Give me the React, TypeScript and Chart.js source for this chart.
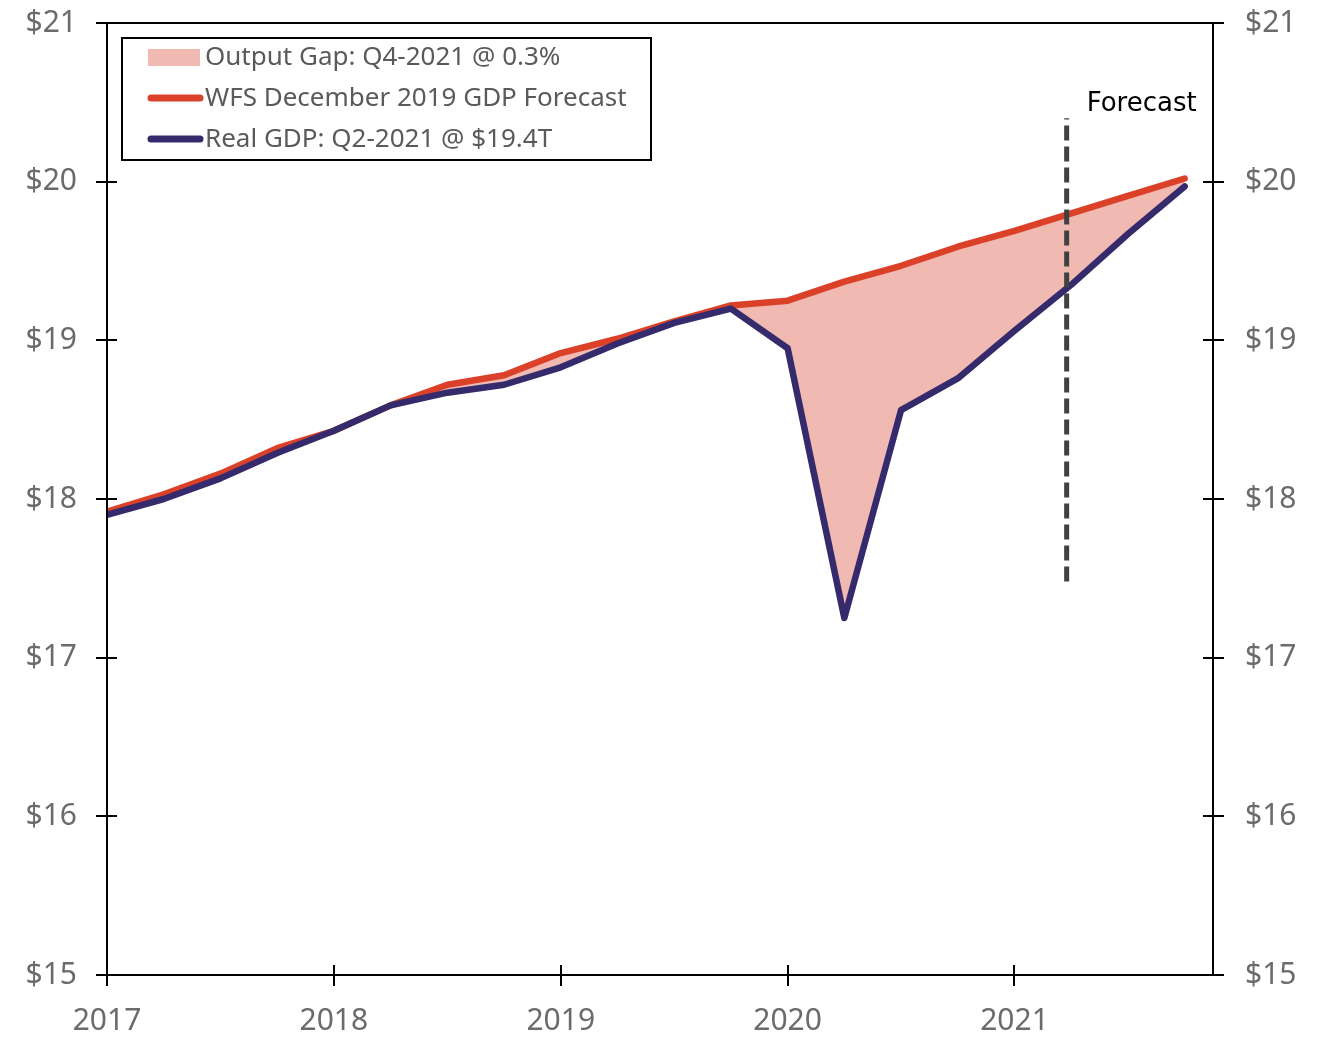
import { useEffect, useRef } from "react";
import { Chart, registerables } from "chart.js";

Chart.register(...registerables);

// Quarterly observations, Q1-2017 through Q4-2021 (x = fractional year)
const quarters = [
  2017, 2017.25, 2017.5, 2017.75,
  2018, 2018.25, 2018.5, 2018.75,
  2019, 2019.25, 2019.5, 2019.75,
  2020, 2020.25, 2020.5, 2020.75,
  2021, 2021.25, 2021.5, 2021.75,
];

// Real GDP, trillions of dollars
const realGdp = [
  17.9, 18.0, 18.13, 18.29,
  18.43, 18.59, 18.67, 18.72,
  18.83, 18.98, 19.11, 19.2,
  18.95, 17.25, 18.56, 18.76,
  19.06, 19.35, 19.67, 19.97,
];

// WFS December 2019 GDP forecast, trillions of dollars
const forecastGdp = [
  17.92, 18.03, 18.16, 18.32,
  18.43, 18.59, 18.72, 18.78,
  18.92, 19.01, 19.12, 19.22,
  19.25, 19.37, 19.47, 19.59,
  19.69, 19.8, 19.91, 20.02,
];

const seriesLabels = [
  "Output Gap: Q4-2021 @ 0.3%",
  "WFS December 2019 GDP Forecast",
  "Real GDP: Q2-2021 @ $19.4T",
];

const yearTicks = [2017, 2018, 2019, 2020, 2021];
const dollarTicks = [15, 16, 17, 18, 19, 20, 21];

// Vertical dashed marker where the forecast period begins
const forecastMarkerX = 2021.23;
const forecastMarkerRange = [17.48, 20.4];
const forecastText = "Forecast";

const X_MIN = 2017;
const X_MAX = 2021.875;

const GAP_COLOR = "#f0b9b2";
const FORECAST_COLOR = "#db4128";
const REAL_COLOR = "#352a6b";
const MARKER_COLOR = "#404040";
const TICK_TEXT = "#6b6b6b";
const LEGEND_TEXT = "#5a5a5a";

const toPoints = (ys: number[]) => quarters.map((x, i) => ({ x, y: ys[i] }));

const framePlugin = {
  id: "frame",
  afterDatasetsDraw(chart: any) {
    const { ctx, chartArea, scales } = chart;
    const { left, right, top, bottom } = chartArea;
    ctx.save();
    ctx.strokeStyle = "#000";
    ctx.lineWidth = 2;
    ctx.beginPath();
    ctx.rect(left, top, right - left, bottom - top);
    ctx.stroke();
    ctx.beginPath();
    for (const v of dollarTicks) {
      const y = Math.round(scales.y.getPixelForValue(v));
      ctx.moveTo(left - 11, y);
      ctx.lineTo(left + 10, y);
      ctx.moveTo(right - 10, y);
      ctx.lineTo(right + 11, y);
    }
    for (const v of yearTicks) {
      const x = Math.round(scales.x.getPixelForValue(v));
      ctx.moveTo(x, bottom - 10);
      ctx.lineTo(x, bottom + 11);
    }
    ctx.stroke();

    // "Forecast" caption beside the marker
    const mx = scales.x.getPixelForValue(forecastMarkerX);
    const my = scales.y.getPixelForValue(forecastMarkerRange[1]);
    ctx.fillStyle = "#000";
    ctx.font = '26px "DejaVu Sans"';
    ctx.textAlign = "left";
    ctx.textBaseline = "alphabetic";
    ctx.fillText(forecastText, mx + 20, my - 7);
    ctx.restore();
  },
};

const legendPlugin = {
  id: "boxLegend",
  afterDraw(chart: any) {
    const { ctx, chartArea } = chart;
    const bx = chartArea.left + 15;
    const by = chartArea.top + 15;
    const bw = 529;
    const bh = 122;
    ctx.save();
    ctx.fillStyle = "#fff";
    ctx.fillRect(bx, by, bw, bh);
    ctx.strokeStyle = "#000";
    ctx.lineWidth = 2;
    ctx.strokeRect(bx, by, bw, bh);

    const items = [
      { ds: chart.data.datasets[0], kind: "box" },
      { ds: chart.data.datasets[1], kind: "line" },
      { ds: chart.data.datasets[2], kind: "line" },
    ];
    items.forEach((it, i) => {
      const cy = by + 19 + i * 41;
      const sx = bx + 26;
      if (it.kind === "box") {
        ctx.fillStyle = it.ds.backgroundColor;
        ctx.fillRect(sx, cy - 8, 52, 17);
      } else {
        ctx.strokeStyle = it.ds.borderColor;
        ctx.lineWidth = 7;
        ctx.lineCap = "round";
        ctx.beginPath();
        ctx.moveTo(sx + 3, cy);
        ctx.lineTo(sx + 52, cy);
        ctx.stroke();
      }
      ctx.fillStyle = LEGEND_TEXT;
      ctx.font = '26px "Noto Sans"';
      ctx.textAlign = "left";
      ctx.textBaseline = "middle";
      ctx.fillText(it.ds.label, sx + 57, cy + 1);
    });
    ctx.restore();
  },
};

export default function App() {
  const canvasRef = useRef<HTMLCanvasElement | null>(null);

  useEffect(() => {
    if (!canvasRef.current) return;
    const tickFont = { family: '"Noto Sans"', size: 30 };
    const chart = new Chart(canvasRef.current, {
      type: "line",
      data: {
        datasets: [
          {
            label: seriesLabels[0],
            data: toPoints(forecastGdp),
            borderWidth: 0,
            pointRadius: 0,
            backgroundColor: GAP_COLOR,
            borderColor: "rgba(0,0,0,0)",
            fill: 2,
            order: 3,
          },
          {
            label: seriesLabels[1],
            data: toPoints(forecastGdp),
            borderColor: FORECAST_COLOR,
            backgroundColor: FORECAST_COLOR,
            borderWidth: 6.5,
            pointRadius: 0,
            borderCapStyle: "round",
            borderJoinStyle: "round",
            fill: false,
            order: 2,
          },
          {
            label: seriesLabels[2],
            data: toPoints(realGdp),
            borderColor: REAL_COLOR,
            backgroundColor: REAL_COLOR,
            borderWidth: 6.5,
            pointRadius: 0,
            borderCapStyle: "round",
            borderJoinStyle: "round",
            fill: false,
            order: 1,
          },
          {
            label: forecastText,
            data: forecastMarkerRange.map((y) => ({ x: forecastMarkerX, y })),
            borderColor: MARKER_COLOR,
            borderWidth: 5,
            borderDash: [15, 6],
            pointRadius: 0,
            fill: false,
            order: 0,
          },
        ],
      },
      options: {
        responsive: false,
        animation: false,
        layout: { padding: { top: 15, left: 0, right: 0, bottom: 0 } },
        plugins: {
          legend: { display: false },
          tooltip: { enabled: false },
        },
        scales: {
          x: {
            type: "linear",
            min: X_MIN,
            max: X_MAX,
            grid: { display: false, drawTicks: false },
            border: { display: false },
            afterBuildTicks: (scale: any) => {
              scale.ticks = yearTicks.map((value) => ({ value }));
            },
            afterFit: (scale: any) => {
              scale.height = 55;
              scale.paddingLeft = 0;
              scale.paddingRight = 0;
            },
            ticks: {
              font: tickFont,
              color: TICK_TEXT,
              padding: 28,
              maxRotation: 0,
              autoSkip: false,
              callback: (v: any) => String(v),
            },
          },
          y: {
            position: "left",
            min: 15,
            max: 21,
            grid: { display: false, drawTicks: false },
            border: { display: false },
            afterBuildTicks: (scale: any) => {
              scale.ticks = dollarTicks.map((value) => ({ value }));
            },
            afterFit: (scale: any) => {
              scale.width = 99;
              scale.paddingTop = 0;
              scale.paddingBottom = 0;
            },
            ticks: {
              font: tickFont,
              color: TICK_TEXT,
              padding: 30,
              callback: (v: any) => "$" + v,
            },
          },
          y2: {
            position: "right",
            min: 15,
            max: 21,
            grid: { display: false, drawTicks: false },
            border: { display: false },
            afterBuildTicks: (scale: any) => {
              scale.ticks = dollarTicks.map((value) => ({ value }));
            },
            afterFit: (scale: any) => {
              scale.width = 96;
              scale.paddingTop = 0;
              scale.paddingBottom = 0;
            },
            ticks: {
              font: tickFont,
              color: TICK_TEXT,
              padding: 32,
              callback: (v: any) => "$" + v,
            },
          },
        },
      } as any,
      plugins: [framePlugin, legendPlugin],
    });
    return () => chart.destroy();
  }, []);

  return <canvas ref={canvasRef} width={1301} height={1022} style={{ display: "block" }} />;
}
